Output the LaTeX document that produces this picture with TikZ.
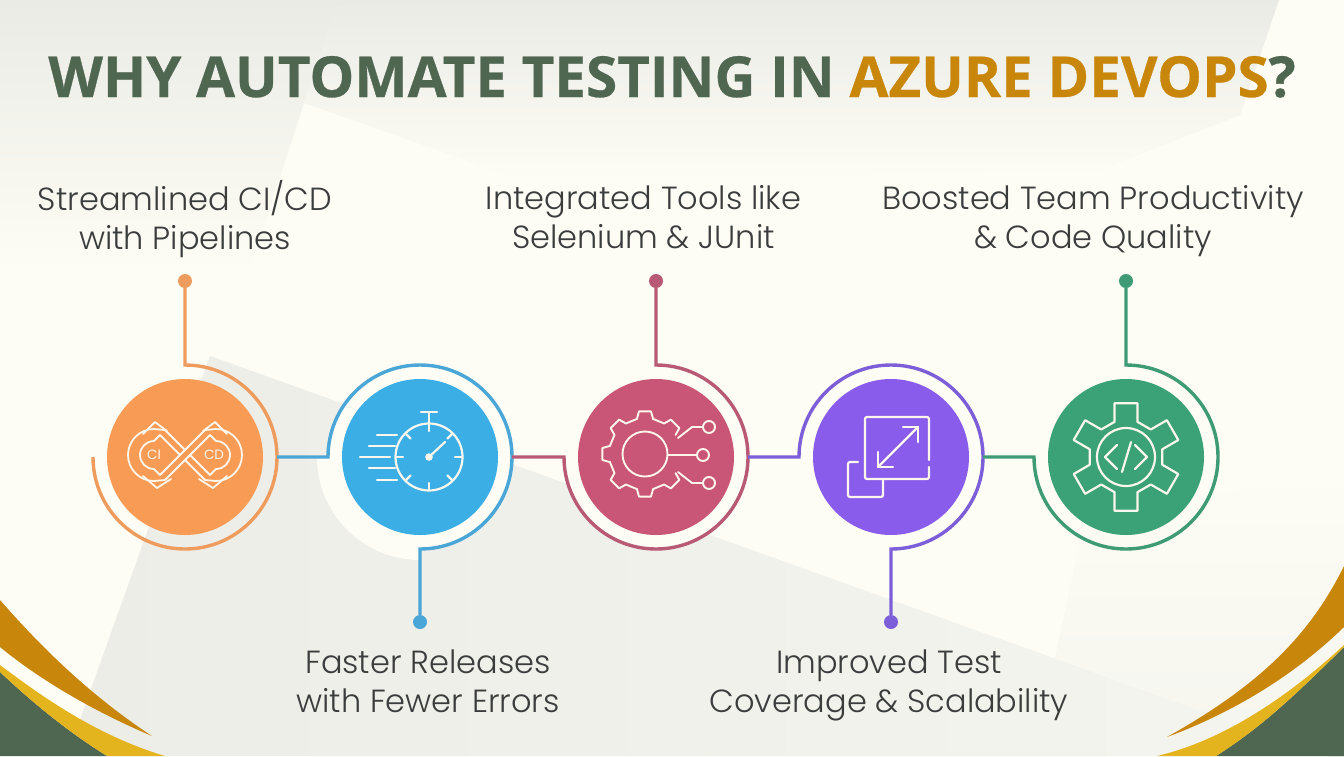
\documentclass[tikz,border=0pt]{standalone}
\usepackage{fontspec}
\setmainfont{Poppins Light}
\newfontfamily\titlefont{Open Sans}[BoldFeatures={FakeBold=0.5}]
\newfontfamily\smallfont{Poppins}
\definecolor{bgc}{HTML}{FDFDF5}
\definecolor{bgg}{HTML}{EDEDE8}
\definecolor{bgr}{HTML}{F5F5EF}
\definecolor{bgt}{HTML}{EBEBE6}
\definecolor{bgm}{HTML}{F6F6F0}
\definecolor{olive}{HTML}{4F6650}
\definecolor{ochre}{HTML}{C8860A}
\definecolor{gold}{HTML}{E4B41E}
\definecolor{ink}{HTML}{3A3D3C}
\definecolor{corange}{HTML}{F89B55}
\definecolor{rorange}{HTML}{EE9C5E}
\definecolor{cblue}{HTML}{3BAEE5}
\definecolor{rblue}{HTML}{4AA6D6}
\definecolor{cpink}{HTML}{C95677}
\definecolor{rpink}{HTML}{B85A75}
\definecolor{cpurple}{HTML}{8A5CEB}
\definecolor{rpurple}{HTML}{7C5FD8}
\definecolor{cgreen}{HTML}{3BA176}
\definecolor{rgreen}{HTML}{3F9A76}
\definecolor{icon}{HTML}{FCF6EC}
\tikzset{
  disc/.style={circle,minimum size=156pt,inner sep=0pt,fill=#1},
  dotn/.style={circle,minimum size=14pt,inner sep=0pt,fill=#1},
  lab/.style={align=center,font=\fontsize{32}{39}\selectfont,text=ink},
  ringl/.style={line width=3.4pt,draw=#1,line join=miter},
  ico/.style={draw=icon,line width=2.2pt,line join=round,line cap=round},
  icothin/.style={draw=icon,line width=1.8pt,line join=round,line cap=round},
}
\begin{document}
\begin{tikzpicture}[x=1pt,y=-1pt]
\useasboundingbox (0,0) rectangle (1344,756);
\fill[bgc] (0,0) rectangle (1344,756);
% background planes
\shade[top color=bgt,middle color=bgm,bottom color=bgc] (0,0) -- (339,0) -- (304,103) -- (250,270) -- (0,270) -- cycle;
\shade[top color=bgt,middle color=bgm,bottom color=bgc] (339,0) -- (1279,0) -- (1240,115) -- (1100,170) -- (523,180) -- (304,103) -- cycle;
\shade[top color=bgc,bottom color=bgr] (1085,520) -- (1344,470) -- (1344,762) -- (1055,658) -- cycle;
\shade[left color=bgg,right color=bgr] (210,356) -- (1344,762) -- (1344,756) -- (67,756) -- cycle;
\fill[bgc] (420,457) -- (317,457) arc[start angle=180,end angle=270,radius=103pt] -- cycle;
\fill[bgc] (420,457) circle[radius=91pt];
\fill[bgc] (656,457) circle[radius=91pt];
% corners
\fill[olive] (0,672) .. controls (35,705) and (70,733) .. (107,756) -- (0,756) -- cycle;
\fill[gold] (0,665) .. controls (40,695) and (95,735) .. (165,756) -- (107,756) .. controls (70,733) and (35,705) .. (0,672) -- cycle;
\fill[ochre] (0,600) .. controls (35,640) and (85,692) .. (152,736) .. controls (95,712) and (40,680) .. (0,647) -- cycle;
\fill[olive] (1344,647) .. controls (1300,690) and (1265,725) .. (1216,756) -- (1344,756) -- cycle;
\fill[gold] (1344,645) .. controls (1290,695) and (1225,740) .. (1157,756) -- (1216,756) .. controls (1265,725) and (1300,690) .. (1344,647) -- cycle;
\fill[ochre] (1344,566) .. controls (1310,635) and (1260,685) .. (1167,737) .. controls (1240,710) and (1300,670) .. (1344,627) -- cycle;
% text
\node[anchor=base,text=olive,font=\titlefont\bfseries\fontsize{56.5}{60}\selectfont] (title) at (672,97) {WHY AUTOMATE TESTING IN \textcolor{ochre}{AZURE DEVOPS}?};
\node[lab] (l1) at (185,220.5) {\strut Streamlined CI/CD\\\strut with Pipelines};
\node[lab] (l2) at (428,685.5) {\strut Faster Releases\\\strut with Fewer Errors};
\node[lab] (l3) at (643.5,221) {\strut Integrated Tools like\\\strut Selenium \& JUnit};
\node[lab] (l4) at (889,685.5) {\strut Improved Test\\\strut Coverage \& Scalability};
\node[lab] (l5) at (1093,221) {\strut Boosted Team Productivity\\\strut \& Code Quality};
% discs and dots
\node[disc=corange] (c1) at (185,457) {};
\node[disc=cblue] (c2) at (420,457) {};
\node[disc=cpink] (c3) at (656,457) {};
\node[disc=cpurple] (c4) at (891,457) {};
\node[disc=cgreen] (c5) at (1126,457) {};
\node[dotn=rorange] (d1) at (185,281) {};
\node[dotn=rblue] (d2) at (420,622) {};
\node[dotn=rpink] (d3) at (656,281) {};
\node[dotn=rpurple] (d4) at (891,622) {};
\node[dotn=rgreen] (d5) at (1126,281) {};
% ring anchors
\coordinate (t1) at (185,365); \coordinate (r1) at (277,457);
\coordinate (w2) at (328,457); \coordinate (r2) at (512,457);
\coordinate (w3) at (564,457); \coordinate (r3) at (748,457);
\coordinate (w4) at (799,457); \coordinate (r4) at (983,457);
\coordinate (w5) at (1034,457);
% connectors with rings
\draw[ringl=rorange] (d1) -- (t1) arc[start angle=90,end angle=-180,radius=92pt];
\draw[ringl=rblue] (r1) -- (w2) arc[start angle=180,end angle=-90,radius=92pt] -- (d2);
\draw[ringl=rpink] (r2) -- (w3) arc[start angle=180,end angle=450,radius=92pt] -- (d3);
\draw[ringl=rpurple] (r3) -- (w4) arc[start angle=180,end angle=-90,radius=92pt] -- (d4);
\draw[ringl=rgreen] (r4) -- (w5) arc[start angle=180,end angle=450,radius=92pt] -- (d5);
% icon 1: CI/CD
\begin{scope}[shift={(185,455)}]
 \draw[icothin] (-25,20) -- (20,-25) (-20,25) -- (25,-20);
 \draw[icothin] (-25,-20) -- (-5,0) (0,5) -- (20,25);
 \draw[icothin] (-20,-25) -- (0,-5) (5,0) -- (25,20);
 \foreach \s in {1,-1}{
  \begin{scope}[xscale=\s]
   \draw[icothin] (-20,-25) -- (-31,-26) arc[start angle=90,end angle=270,radius=26pt] -- (-20,25);
   \draw[icothin] (-25,-20) -- (-31,-14) arc[start angle=90,end angle=270,radius=14pt] -- (-25,20);
   \draw[icothin] (-42,-21) -- (-30,-33) -- (-18,-24);
   \draw[icothin] (-42,21) -- (-28,33) -- (-14,24);
  \end{scope}}
 \node[text=icon,font=\smallfont\fontsize{13.5}{13.5}\selectfont,inner sep=0pt] (cilabel) at (-31,0) {CI};
 \node[text=icon,font=\smallfont\fontsize{13.5}{13.5}\selectfont,inner sep=0pt] (cdlabel) at (29,0) {CD};
\end{scope}
% icon 2: stopwatch
\begin{scope}[shift={(429,457)}]
 \draw[ico] (0,0) circle[radius=33.5pt];
 \draw[ico] (0,-34) -- (0,-44) (-8,-45) -- (8,-45);
 \foreach \a in {0,45,...,315}{ \draw[ico] (\a:33pt) -- (\a:26pt); }
 \draw[ico] (0,0) -- (16,-15);
 \fill[icon] (0,0) circle[radius=3.8pt];
 \draw[ico] (-52,-22) -- (-32,-22) (-60,-11) -- (-34,-11) (-69,0) -- (-39,0) (-60,11) -- (-34,11) (-52,23) -- (-32,23);
\end{scope}
% icon 3: gear with circuit
\begin{scope}[shift={(645,454)}]
 \draw[ico,line width=1.9pt] (32:36pt) \foreach \a in {45,90,135,180,225,270,315}{ -- ({\a-13}:36pt) -- ({\a-8}:43pt) -- ({\a+8}:43pt) -- ({\a+13}:36pt) };
 \draw[ico,line width=1.9pt] (0,0) circle[radius=22.5pt];
 \draw[ico,line width=1.9pt] (22.5,1) -- (52,1) (33,-16) -- (47,-27) -- (58,-27) (33,18) -- (47,29) -- (58,29);
 \draw[ico,line width=1.9pt] (58,1) circle[radius=6pt] (64,-27) circle[radius=6pt] (64,29) circle[radius=6pt];
\end{scope}
% icon 4: resize
\begin{scope}[shift={(891,457)}]
 \draw[ico,rounded corners=2pt] (38,3) -- (38,-40) -- (-26,-40) -- (-26,22) -- (38,22) -- (38,10);
 \draw[ico,rounded corners=2pt] (-33,5) -- (-43,5) -- (-43,40) -- (-8,40) -- (-8,23);
 \draw[ico] (-13,10) -- (27,-30);
 \draw[ico] (12,-30) -- (27,-30) -- (27,-15);
 \draw[ico] (-13,-5) -- (-13,10) -- (2,10);
\end{scope}
% icon 5: gear with code
\begin{scope}[shift={(1126,457)}]
 \draw[ico] (72:37pt) \foreach \a in {90,150,210,270,330,390}{ -- ({\a-18}:37pt) -- ({\a-12}:55pt) -- ({\a+12}:55pt) -- ({\a+18}:37pt) } -- cycle;
 \draw[ico] (0,0) circle[radius=29pt];
 \draw[ico] (-9,-12) -- (-21,0) -- (-9,12) (9,-12) -- (21,0) -- (9,12) (5,-15) -- (-4,15);
\end{scope}
\end{tikzpicture}
\end{document}
